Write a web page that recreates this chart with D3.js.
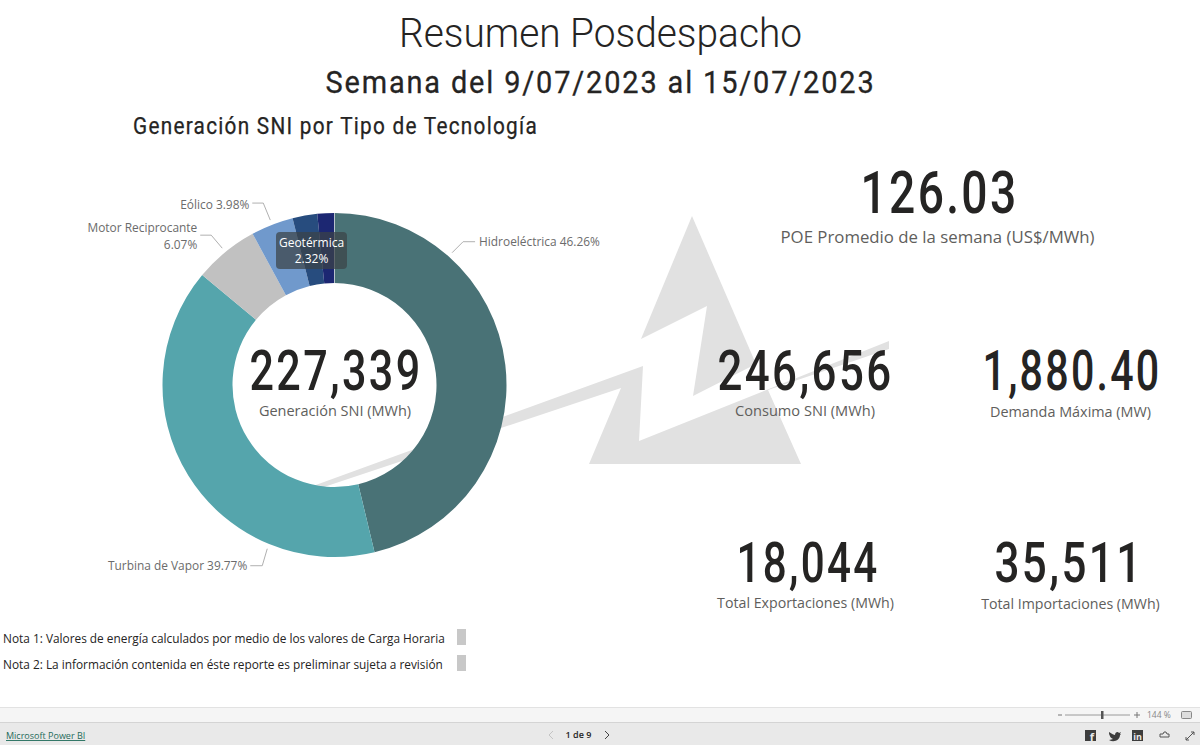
<!DOCTYPE html>
<html>
<head>
<meta charset="utf-8">
<script src="https://cdn.jsdelivr.net/npm/d3@7"></script>
<style>
  html, body { margin: 0; padding: 0; background: #fff; overflow: hidden; }
  text { font-family: "Open Sans", sans-serif; }
  .din { font-family: "Roboto", sans-serif; }
</style>
</head>
<body>
<script>
const tech_names = ["Hidroeléctrica", "Turbina de Vapor", "Motor Reciprocante", "Eólico", "Geotérmica", "Solar"];
const tech_shares = [46.26, 39.77, 6.07, 3.98, 2.32, 1.60];
const tech_colors = ["#497276", "#55a5ac", "#c1c1c1", "#7099cc", "#274c7e", "#1c2772"];
const kpi_values = ["126.03", "227,339", "246,656", "1,880.40", "18,044", "35,511"];
const kpi_labels = ["POE Promedio de la semana (US$/MWh)", "Generación SNI (MWh)", "Consumo SNI (MWh)",
  "Demanda Máxima (MW)", "Total Exportaciones (MWh)", "Total Importaciones (MWh)"];
const notes = ["Nota 1: Valores de energía calculados por medio de los valores de Carga Horaria",
  "Nota 2: La información contenida en éste reporte es preliminar sujeta a revisión"];

const svg = d3.select("body").append("svg")
    .attr("width", 1200)
    .attr("height", 745);

// background logo, sits behind the donut
const logo_parts = [
  [[692,216],[641,339],[707,306],[693,396],[756,364]],
  [[313,486],[643,366],[639,441],[889,341],[889,349],[768,390],[801,464],[589,464],[621,388],[318,489]]
];
svg.selectAll("polygon.logo").data(logo_parts).join("polygon")
    .attr("class", "logo")
    .attr("points", d => d.join(" "))
    .attr("fill", "#e1e1e1");

function add_text(x, y, str, size, color, anchor, cls, extra, fit) {
  const t = svg.append("text")
      .attr("x", x).attr("y", y)
      .attr("font-size", size)
      .attr("fill", color)
      .attr("text-anchor", anchor || "middle")
      .text(str);
  if(cls) t.attr("class", cls);
  if(extra) for(const k in extra) t.style(k, extra[k]);
  // the original face is narrower than anything installed, so squeeze to the measured width
  if(fit) t.attr("textLength", fit).attr("lengthAdjust", "spacingAndGlyphs");
  return t;
}

add_text(600.5, 47, "Resumen Posdespacho", 41, "#252423", "middle", "din", {"font-weight": 300}, 403);
add_text(600.5, 93, "Semana del 9/07/2023 al 15/07/2023", 31, "#252423", "middle", "din", {"font-weight": 400, "letter-spacing": "2px", "stroke": "#252423", "stroke-width": "0.3px"}, 550);
add_text(133, 134, "Generación SNI por Tipo de Tecnología", 23, "#252423", "start", "din", {"font-weight": 400, "letter-spacing": "1.4px", "stroke": "#252423", "stroke-width": "0.25px"}, 405);

// donut
const cx = 334.5, cy = 385, r_out = 172, r_in = 102;
const pie = d3.pie().sort(null).value(d => d);
const arcs = pie(tech_shares);
const arc = d3.arc().innerRadius(r_in).outerRadius(r_out);
const donut = svg.append("g").attr("transform", "translate(" + cx + "," + cy + ")");
donut.selectAll("path.slice").data(arcs).join("path")
    .attr("class", "slice")
    .attr("d", arc)
    .attr("fill", (d, i) => tech_colors[i]);
donut.append("line")
    .attr("x1", 0).attr("x2", 0)
    .attr("y1", -r_out).attr("y2", -r_in)
    .attr("stroke", "#b9c4cb").attr("stroke-width", 1);

// leader lines and slice labels
const leader_specs = [
  {i: 0, frac: 0.25, bend: [11, -11], run: 12},
  {i: 1, frac: 0.25, bend: [-5, 17], run: -12},
  {i: 2, frac: 0.5, bend: [-11, -13], run: -11},
  {i: 3, frac: 0.5, bend: [-7, -17], run: -11}
];
const leader_line = d3.line();
leader_specs.forEach(function(s) {
  const a = arcs[s.i];
  const ang = a.startAngle + (a.endAngle - a.startAngle) * s.frac;
  const x0 = cx + 177 * Math.sin(ang), y0 = cy - 177 * Math.cos(ang);
  const x1 = x0 + s.bend[0], y1 = y0 + s.bend[1];
  const x2 = x1 + s.run;
  svg.append("path")
      .attr("d", leader_line([[x0, y0], [x1, y1], [x2, y1]]))
      .attr("fill", "none")
      .attr("stroke", "#b0b0b0")
      .attr("stroke-width", 1);
  const pct = tech_shares[s.i].toFixed(2) + "%";
  const tx = x2 + (s.run > 0 ? 4 : -3), anchor = s.run > 0 ? "start" : "end";
  if(s.i === 2) {
    add_text(tx, y1 - 3, tech_names[s.i], 11.9, "#6b6b6b", anchor);
    add_text(tx, y1 + 14, pct, 11.9, "#6b6b6b", anchor);
  } else {
    add_text(tx, y1 + (s.i === 3 ? 6 : 4), tech_names[s.i] + " " + pct, 11.9, "#6b6b6b", anchor);
  }
});

// hover label on the geothermal slice
svg.append("rect")
    .attr("x", 276).attr("y", 232)
    .attr("width", 71).attr("height", 37)
    .attr("rx", 4)
    .attr("fill", "#3b4247").attr("fill-opacity", 0.72);
add_text(311.5, 246.5, tech_names[4], 12, "#fff");
add_text(311.5, 262.5, tech_shares[4].toFixed(2) + "%", 12, "#fff");

// cards
const kpi_x = [939.5, 336, 805.5, 1072, 808, 1069];
const kpi_y = [213, 390, 390, 390, 582, 582];
const kpi_size = [59, 55, 55, 55, 55, 55];
const kpi_width = [158, 173, 176, 179, 143, 149];
const kpi_label_x = [937.5, 335, 805, 1070.5, 805.5, 1070.5];
const kpi_label_y = [243, 416, 416, 417, 608, 609];
const kpi_label_size = [16.8, 14.5, 14.6, 14.4, 14.2, 14.2];
kpi_values.forEach(function(v, i) {
  add_text(kpi_x[i], kpi_y[i], v, kpi_size[i], "#252423", "middle", "din", {"font-weight": 500, "letter-spacing": "3px"}, kpi_width[i]);
  add_text(kpi_label_x[i], kpi_label_y[i], kpi_labels[i], kpi_label_size[i], "#605e5c");
});

// notes with the small grey boxes
notes.forEach(function(n, i) {
  add_text(3, 643 + i * 26, n, 11.85, "#252423", "start");
  svg.append("rect")
      .attr("x", 457).attr("y", 629 + i * 26)
      .attr("width", 9).attr("height", 16)
      .attr("fill", "#c8c8c8");
});

// power bi footer
svg.append("rect").attr("x", 0).attr("y", 707).attr("width", 1200).attr("height", 16).attr("fill", "#f5f5f5");
svg.append("rect").attr("x", 0).attr("y", 723).attr("width", 1200).attr("height", 22).attr("fill", "#e9e9e9");
svg.append("line").attr("x1", 0).attr("x2", 1200).attr("y1", 707.5).attr("y2", 707.5).attr("stroke", "#e2e2e2");
svg.append("line").attr("x1", 0).attr("x2", 1200).attr("y1", 722.5).attr("y2", 722.5).attr("stroke", "#d4d4d4");

add_text(6, 739, "Microsoft Power BI", 9, "#1f6b5a", "start").style("text-decoration", "underline");
add_text(578.5, 738, "1 de 9", 9, "#252423").style("font-weight", 600);
svg.append("path").attr("d", "M553,731l-4,4l4,4").attr("fill", "none").attr("stroke", "#c4c4c4");
svg.append("path").attr("d", "M605,731l4,4l-4,4").attr("fill", "none").attr("stroke", "#444");

// zoom slider
svg.append("line").attr("x1", 1065).attr("x2", 1130).attr("y1", 715).attr("y2", 715).attr("stroke", "#9a9a9a");
svg.append("rect").attr("x", 1101).attr("y", 711).attr("width", 2.5).attr("height", 8).attr("fill", "#555");
svg.append("path").attr("d", "M1058,715h4M1134,715h6M1137,712v6").attr("stroke", "#777").attr("fill", "none");
add_text(1147, 718, "144 %", 8.5, "#888", "start");
svg.append("rect").attr("x", 1181.5).attr("y", 711.5).attr("width", 10).attr("height", 7).attr("rx", 1)
    .attr("fill", "#ddd").attr("stroke", "#888");

// share icons
svg.append("rect").attr("x", 1085).attr("y", 730).attr("width", 11).attr("height", 11).attr("fill", "#3d3d3d");
add_text(1092, 741, "f", 11, "#e9e9e9").style("font-weight", 700);
svg.append("path")
    .attr("d", "M1109,732c3,2 5,3 6,3c0,-3 3,-4 4,-2l2,-1l-1,2l1,0l-1,1c0,5 -6,8 -11,5c2,0 3,-1 4,-1c-2,-1 -3,-2 -3,-3c-1,-1 -1,-3 -1,-4z")
    .attr("fill", "#3d3d3d");
svg.append("rect").attr("x", 1132).attr("y", 730).attr("width", 11).attr("height", 11).attr("fill", "#3d3d3d");
add_text(1137.5, 739.5, "in", 9, "#e9e9e9").style("font-weight", 700);
svg.append("path").attr("d", "M1160,737v-3h3l1,-2h2l1,2h2v3z").attr("fill", "none").attr("stroke", "#555");
svg.append("path").attr("d", "M1186,740l8,-8M1191,732h3v3M1186,737v3h3").attr("fill", "none").attr("stroke", "#555");
</script>
</body>
</html>
